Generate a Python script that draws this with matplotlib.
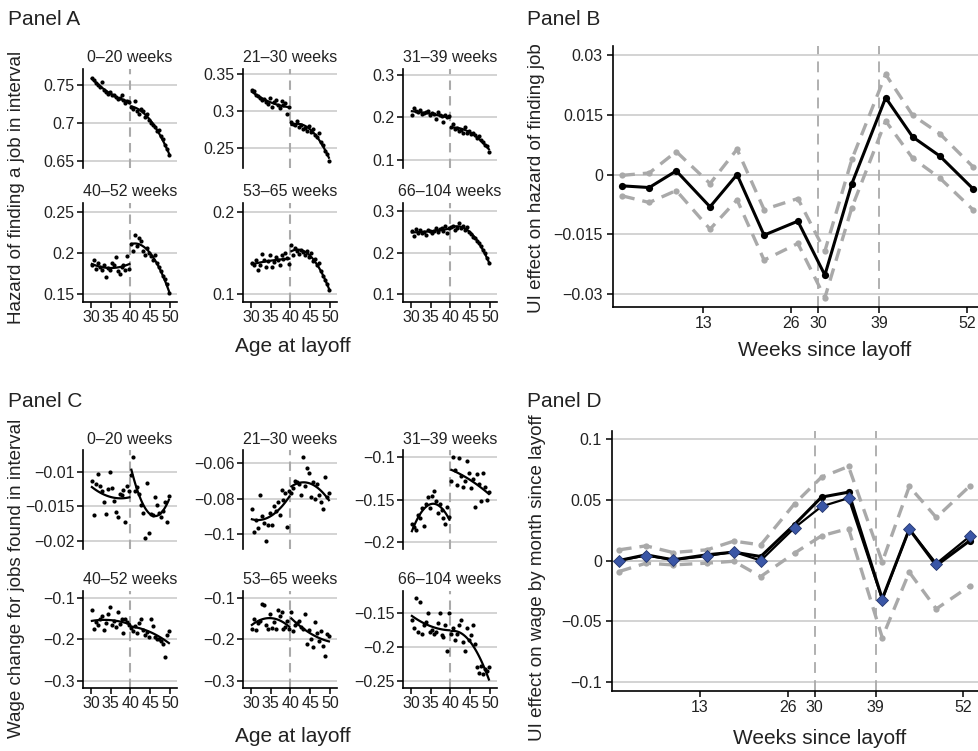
import numpy as np
import matplotlib
matplotlib.use('Agg')
import matplotlib.pyplot as plt

plt.rcParams['font.family'] = ['Liberation Sans', 'DejaVu Sans']

# ---------------- data ----------------
ages_left = [30.25, 30.75, 31.25, 31.75, 32.25, 32.75, 33.25, 33.75, 34.25, 34.75,
             35.25, 35.75, 36.25, 36.75, 37.25, 37.75, 38.25, 38.75, 39.25, 39.75]
ages_right = [40.25, 40.75, 41.25, 41.75, 42.25, 42.75, 43.25, 43.75, 44.25, 44.75,
              45.25, 45.75, 46.25, 46.75, 47.25, 47.75, 48.25, 48.75, 49.25, 49.75]

interval_labels = ['0–20 weeks', '21–30 weeks', '31–39 weeks',
                   '40–52 weeks', '53–65 weeks', '66–104 weeks']

# Panel A: hazard of finding a job in interval (first 20 left of 40, last 20 right of 40)
hazard_0_20 = [0.759, 0.756, 0.752, 0.749, 0.747, 0.753, 0.743, 0.741, 0.738, 0.740,
               0.736, 0.737, 0.734, 0.731, 0.733, 0.736, 0.730, 0.726, 0.729, 0.727,
               0.721, 0.718, 0.728, 0.716, 0.712, 0.718, 0.715, 0.708, 0.711, 0.703,
               0.700, 0.697, 0.694, 0.689, 0.691, 0.682, 0.678, 0.671, 0.665, 0.658]
hazard_21_30 = [0.328, 0.327, 0.322, 0.320, 0.318, 0.315, 0.316, 0.312, 0.310, 0.318,
                0.306, 0.313, 0.315, 0.309, 0.304, 0.314, 0.308, 0.311, 0.296, 0.306,
                0.285, 0.283, 0.281, 0.287, 0.279, 0.282, 0.276, 0.278, 0.274, 0.280,
                0.272, 0.276, 0.268, 0.265, 0.270, 0.258, 0.254, 0.247, 0.242, 0.233]
hazard_31_39 = [0.205, 0.222, 0.215, 0.212, 0.218, 0.208, 0.210, 0.213, 0.216, 0.205,
                0.210, 0.207, 0.196, 0.212, 0.206, 0.204, 0.190, 0.205, 0.201, 0.203,
                0.178, 0.185, 0.172, 0.176, 0.168, 0.171, 0.164, 0.178, 0.163, 0.168,
                0.160, 0.164, 0.158, 0.152, 0.156, 0.148, 0.142, 0.135, 0.132, 0.118]
hazard_40_52 = [0.185, 0.192, 0.181, 0.188, 0.183, 0.179, 0.186, 0.171, 0.182, 0.179,
                0.188, 0.185, 0.195, 0.178, 0.175, 0.183, 0.186, 0.180, 0.196, 0.181,
                0.211, 0.202, 0.222, 0.208, 0.218, 0.215, 0.203, 0.198, 0.206, 0.200,
                0.196, 0.191, 0.197, 0.188, 0.183, 0.178, 0.172, 0.168, 0.162, 0.151]
hazard_53_65 = [0.138, 0.135, 0.142, 0.130, 0.136, 0.149, 0.141, 0.133, 0.140, 0.148,
                0.133, 0.139, 0.145, 0.141, 0.136, 0.147, 0.143, 0.150, 0.144, 0.137,
                0.160, 0.148, 0.156, 0.152, 0.149, 0.154, 0.151, 0.147, 0.153, 0.145,
                0.150, 0.140, 0.143, 0.136, 0.138, 0.128, 0.122, 0.117, 0.112, 0.105]
hazard_66_104 = [0.252, 0.240, 0.256, 0.248, 0.254, 0.246, 0.250, 0.243, 0.255, 0.251,
                 0.247, 0.253, 0.258, 0.249, 0.256, 0.260, 0.252, 0.263, 0.248, 0.258,
                 0.262, 0.265, 0.255, 0.260, 0.270, 0.258, 0.264, 0.254, 0.262, 0.250,
                 0.244, 0.238, 0.235, 0.228, 0.224, 0.215, 0.206, 0.198, 0.188, 0.176]

# Panel C: wage change for jobs found in interval
wage_0_20 = [-0.0114, -0.0163, -0.0118, -0.0103, -0.0121, -0.0128, -0.0144, -0.0161, -0.0125, -0.0100,
             -0.0124, -0.0142, -0.0158, -0.0165, -0.0132, -0.0133, -0.0127, -0.0172, -0.0120, -0.0128,
             -0.0105, -0.0079, -0.0128, -0.0122, -0.0132, -0.0148, -0.0159, -0.0196, -0.0116, -0.0189,
             -0.0161, -0.0162, -0.0136, -0.0148, -0.0160, -0.0166, -0.0156, -0.0143, -0.0172, -0.0135]
wage_21_30 = [-0.0860, -0.0985, -0.0920, -0.0965, -0.0780, -0.0900, -0.0935, -0.1035, -0.0950, -0.0880,
              -0.0950, -0.0840, -0.0870, -0.0820, -0.0890, -0.0750, -0.0810, -0.0770, -0.0960, -0.0760,
              -0.0770, -0.0740, -0.0700, -0.0710, -0.0720, -0.0780, -0.0570, -0.0730, -0.0630, -0.0660,
              -0.0790, -0.0710, -0.0800, -0.0720, -0.0780, -0.0820, -0.0860, -0.0680, -0.0790, -0.0770]
wage_31_39 = [-0.178, -0.182, -0.186, -0.168, -0.172, -0.160, -0.181, -0.155, -0.147, -0.160,
              -0.146, -0.140, -0.152, -0.165, -0.155, -0.162, -0.172, -0.178, -0.158, -0.170,
              -0.128, -0.100, -0.115, -0.132, -0.101, -0.122, -0.135, -0.128, -0.104, -0.118,
              -0.136, -0.126, -0.158, -0.120, -0.131, -0.152, -0.118, -0.135, -0.150, -0.141]
wage_40_52 = [-0.130, -0.175, -0.158, -0.165, -0.150, -0.145, -0.178, -0.160, -0.140, -0.122,
              -0.165, -0.155, -0.170, -0.135, -0.162, -0.150, -0.185, -0.152, -0.158, -0.165,
              -0.172, -0.180, -0.168, -0.185, -0.160, -0.150, -0.178, -0.190, -0.182, -0.195,
              -0.150, -0.168, -0.195, -0.198, -0.200, -0.205, -0.210, -0.242, -0.190, -0.180]
wage_53_65 = [-0.175, -0.150, -0.178, -0.160, -0.155, -0.115, -0.117, -0.165, -0.175, -0.140,
              -0.172, -0.158, -0.175, -0.130, -0.145, -0.135, -0.175, -0.170, -0.155, -0.175,
              -0.135, -0.180, -0.165, -0.160, -0.155, -0.170, -0.175, -0.140, -0.210, -0.178,
              -0.200, -0.218, -0.158, -0.185, -0.205, -0.180, -0.215, -0.240, -0.188, -0.192]
wage_66_104 = [-0.160, -0.172, -0.127, -0.178, -0.133, -0.180, -0.168, -0.163, -0.150, -0.178,
               -0.175, -0.180, -0.178, -0.165, -0.150, -0.182, -0.185, -0.168, -0.205, -0.150,
               -0.180, -0.172, -0.190, -0.180, -0.168, -0.160, -0.192, -0.205, -0.172, -0.190,
               -0.182, -0.168, -0.195, -0.230, -0.238, -0.228, -0.240, -0.232, -0.236, -0.230]

hazard_series = [hazard_0_20, hazard_21_30, hazard_31_39, hazard_40_52, hazard_53_65, hazard_66_104]
wage_series = [wage_0_20, wage_21_30, wage_31_39, wage_40_52, wage_53_65, wage_66_104]

hazard_yticks = [[0.65, 0.7, 0.75], [0.25, 0.3, 0.35], [0.1, 0.2, 0.3],
                 [0.15, 0.2, 0.25], [0.1, 0.2], [0.1, 0.2, 0.3]]
hazard_yticklabels = [['0.65', '0.7', '0.75'], ['0.25', '0.3', '0.35'], ['0.1', '0.2', '0.3'],
                      ['0.15', '0.2', '0.25'], ['0.1', '0.2'], ['0.1', '0.2', '0.3']]
hazard_ylims = [(0.6404, 0.7707), (0.2234, 0.357), (0.081, 0.314),
                (0.1407, 0.2605), (0.0907, 0.2105), (0.0815, 0.319)]

wage_yticks = [[-0.02, -0.015, -0.01], [-0.1, -0.08, -0.06], [-0.2, -0.15, -0.1],
               [-0.3, -0.2, -0.1], [-0.3, -0.2, -0.1], [-0.25, -0.2, -0.15]]
wage_yticklabels = [['−0.02', '−0.015', '−0.01'], ['−0.1', '−0.08', '−0.06'], ['−0.2', '−0.15', '−0.1'],
                    ['−0.3', '−0.2', '−0.1'], ['−0.3', '−0.2', '−0.1'], ['−0.25', '−0.2', '−0.15']]
wage_ylims = [(-0.02115, -0.00687), (-0.1082, -0.0529), (-0.2079, -0.0914),
              (-0.3168, -0.084), (-0.3168, -0.084), (-0.2604, -0.117)]

age_ticks = [30, 35, 40, 45, 50]

# Panels B and D
weeks = [1, 5, 9, 14, 18, 22, 27, 31, 35, 40, 44, 48, 53]
hazard_effect = [-0.00284, -0.00326, 0.00092, -0.00811, 0.0, -0.01522, -0.01171,
                 -0.02525, -0.00226, 0.01931, 0.00945, 0.00468, -0.00368]
hazard_upper = [-0.0002, 0.0004, 0.00577, -0.00226, 0.00635, -0.00878, -0.00602,
                -0.01923, 0.00385, 0.02517, 0.01488, 0.01028, 0.00184]
hazard_lower = [-0.00535, -0.00702, -0.00401, -0.01371, -0.00635, -0.02149, -0.01731,
                -0.03094, -0.00828, 0.01346, 0.0041, -0.00084, -0.00895]

wage_effect = [0.0, 0.0047, 0.0006, 0.0047, 0.0069, 0.0033, 0.0297,
               0.0523, 0.0564, -0.0316, 0.0259, -0.0041, 0.0165]
wage_effect_alt = [0.0, 0.0041, 0.0006, 0.0036, 0.0072, 0.0, 0.027,
                   0.0446, 0.0515, -0.0322, 0.0259, -0.0025, 0.0201]
wage_upper = [0.0088, 0.0121, 0.0066, 0.0088, 0.016, 0.0129, 0.0468,
              0.0688, 0.0776, -0.0011, 0.0611, 0.0355, 0.0616]
wage_lower = [-0.0091, -0.0022, -0.0036, -0.0022, -0.0006, -0.0132, 0.0061,
              0.0204, 0.0264, -0.0636, -0.0096, -0.0399, -0.0209]

week_ticks = [13, 26, 30, 39, 52]
hazard_eff_ticks = [-0.03, -0.015, 0, 0.015, 0.03]
hazard_eff_ticklabels = ['−0.03', '−0.015', '0', '0.015', '0.03']
wage_eff_ticks = [-0.1, -0.05, 0, 0.05, 0.1]
wage_eff_ticklabels = ['−0.1', '−0.05', '0', '0.05', '0.1']

# ---------------- layout ----------------
W, H = 979, 751
fig = plt.figure(figsize=(W / 100, H / 100), dpi=100)

GRID = '#cccccc'
DASH = '#aaaaaa'
CI = '#a9a9a9'
TICKC = '#222222'
TICK_FS = 11.5


def add_ax(l, t, r, b):
    return fig.add_axes([l / W, 1 - b / H, (r - l) / W, (b - t) / H])


def ftext(x, y, s, **kw):
    fig.text(x / W, 1 - y / H, s, **kw)


col_left = [83, 243, 403]
col_w = 94
rows_A = [(69, 168), (203, 302)]
rows_C = [(450, 549), (591, 688)]


def mini_panel(ax, yvals, yticks, yticklabels, ylim, title, bottom):
    ax.set_xlim(28, 51.8)
    ax.set_ylim(*ylim)
    for s in ['top', 'right']:
        ax.spines[s].set_visible(False)
    ax.spines['left'].set_linewidth(1.2)
    ax.set_yticks(yticks)
    ax.set_yticklabels(yticklabels)
    ax.yaxis.grid(True, color=GRID, lw=1.2)
    ax.set_axisbelow(True)
    ax.axvline(40, color=DASH, lw=1.5, ls=(0, (4.5, 3.0)), zorder=1)
    yl = yvals[:20]
    yr = yvals[20:]
    ax.plot(ages_left, yl, 'o', color='black', ms=3.0, mew=0, zorder=3)
    ax.plot(ages_right, yr, 'o', color='black', ms=3.0, mew=0, zorder=3)
    for xs, ys in [(ages_left, yl), (ages_right, yr)]:
        c = np.polyfit(xs, ys, 2)
        xx = np.linspace(xs[0], xs[-1], 60)
        ax.plot(xx, np.polyval(c, xx), color='black', lw=1.6, zorder=4)
    ax.tick_params(axis='y', length=4, width=1.1, colors='black', labelcolor=TICKC,
                   labelsize=TICK_FS, pad=2)
    if bottom:
        ax.spines['bottom'].set_linewidth(1.2)
        ax.set_xticks(age_ticks)
        ax.set_xticklabels([str(a) for a in age_ticks])
        ax.tick_params(axis='x', length=4, width=1.1, colors='black', labelcolor=TICKC,
                       labelsize=TICK_FS, pad=2)
    else:
        ax.spines['bottom'].set_visible(False)
        ax.set_xticks([])
    ax.text(0.5, 1 + 11 / (ax.get_position().height * H), title, transform=ax.transAxes,
            ha='center', va='center', fontsize=11.5, color=TICKC)


for i in range(6):
    r, c = divmod(i, 3)
    t, b = rows_A[r]
    ax = add_ax(col_left[c], t, col_left[c] + col_w, b)
    mini_panel(ax, hazard_series[i], hazard_yticks[i], hazard_yticklabels[i],
               hazard_ylims[i], interval_labels[i], bottom=(r == 1))
    t, b = rows_C[r]
    ax = add_ax(col_left[c], t, col_left[c] + col_w, b)
    mini_panel(ax, wage_series[i], wage_yticks[i], wage_yticklabels[i],
               wage_ylims[i], interval_labels[i], bottom=(r == 1))


def effect_panel(ax, main, upper, lower, yticks, yticklabels, ylim, xlim, alt=None):
    ax.set_xlim(*xlim)
    ax.set_ylim(*ylim)
    for s in ['top', 'right']:
        ax.spines[s].set_visible(False)
    for s in ['left', 'bottom']:
        ax.spines[s].set_linewidth(1.2)
    ax.set_yticks(yticks)
    ax.set_yticklabels(yticklabels)
    ax.set_xticks(week_ticks)
    ax.set_xticklabels([str(w) for w in week_ticks])
    ax.yaxis.grid(True, color=GRID, lw=1.2)
    ax.set_axisbelow(True)
    ax.axhline(0, color='#b5b5b5', lw=1.2, zorder=0.5)
    for v in [30, 39]:
        ax.axvline(v, color=DASH, lw=1.3, ls=(0, (6, 4)), zorder=1)
    for ci in [upper, lower]:
        ax.plot(weeks, ci, color=CI, lw=2.4, ls=(0, (3.8, 2.4)), marker='o', ms=4.5,
                mew=0, zorder=2, clip_on=False)
    ax.plot(weeks, main, color='black', lw=2.2, marker='o', ms=5.2, mew=0, zorder=4,
            clip_on=False)
    if alt is not None:
        ax.plot(weeks, alt, color='black', lw=1.6, zorder=5, clip_on=False)
        ax.plot(weeks, alt, ls='none', marker='D', ms=6.5, mfc='#3a56a6', mec='#24366e',
                mew=0.6, zorder=6, clip_on=False)
    ax.tick_params(axis='both', length=4, width=1.1, colors='black', labelcolor=TICKC,
                   labelsize=TICK_FS, pad=3)


axB = add_ax(612.7, 46, 978, 306.7)
effect_panel(axB, hazard_effect, hazard_upper, hazard_lower, hazard_eff_ticks,
             hazard_eff_ticklabels, (-0.0332, 0.0323), (-0.41, 53.67))
axD = add_ax(611.7, 430.7, 978, 690.7)
effect_panel(axD, wage_effect, wage_upper, wage_lower, wage_eff_ticks,
             wage_eff_ticklabels, (-0.1074, 0.1071), (-0.08, 54.18), alt=wage_effect_alt)

# ---------------- texts ----------------
PFS = 15
ftext(8, 25, 'Panel A', fontsize=PFS, va='baseline', color=TICKC)
ftext(527, 25, 'Panel B', fontsize=PFS, va='baseline', color=TICKC)
ftext(8, 407, 'Panel C', fontsize=PFS, va='baseline', color=TICKC)
ftext(527, 407, 'Panel D', fontsize=PFS, va='baseline', color=TICKC)

LFS = 13.5
ftext(17, 187, 'Hazard of finding a job in interval', rotation=90, ha='center',
      va='center', fontsize=LFS, color=TICKC)
ftext(17, 578, 'Wage change for jobs found in interval', rotation=90, ha='center',
      va='center', fontsize=LFS, color=TICKC)
ftext(537, 178, 'UI effect on hazard of finding job', rotation=90, ha='center',
      va='center', fontsize=LFS, color=TICKC)
ftext(538, 578, 'UI effect on wage by month since layoff', rotation=90, ha='center',
      va='center', fontsize=LFS, color=TICKC)

XFS = 15
ftext(293, 347, 'Age at layoff', ha='center', va='center', fontsize=XFS, color=TICKC)
ftext(293, 737, 'Age at layoff', ha='center', va='center', fontsize=XFS, color=TICKC)
ftext(825, 350, 'Weeks since layoff', ha='center', va='center', fontsize=XFS, color=TICKC)
ftext(820, 738, 'Weeks since layoff', ha='center', va='center', fontsize=XFS, color=TICKC)

fig.savefig('out.png', dpi=100)
